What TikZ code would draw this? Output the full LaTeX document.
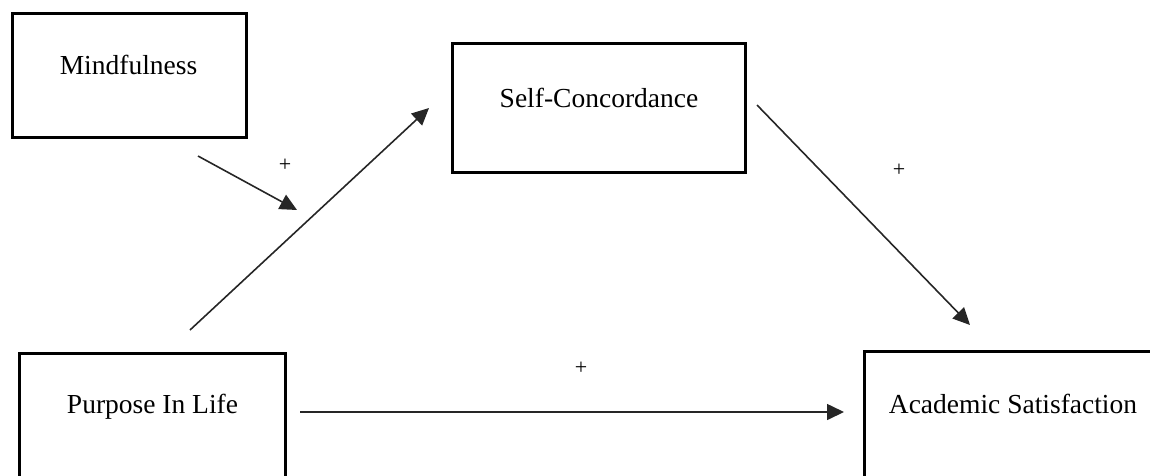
\documentclass[tikz,border=0pt]{standalone}
\usepackage{fontspec}
\setmainfont{Liberation Serif}
\usetikzlibrary{arrows.meta}
\tikzset{
  varbox/.style={draw, line width=3pt, inner sep=0pt},
  vartext/.style={anchor=base, inner sep=0pt, font=\fontsize{27.5}{33}\selectfont},
  link/.style={-{Triangle[length=17pt,width=16pt]}, line width=1.6pt, draw=black!85},
  sign/.style={inner sep=0pt, font=\fontsize{22}{26}\selectfont}
}
\begin{document}
\begin{tikzpicture}[x=1pt,y=-1pt]
    \useasboundingbox (0,0) rectangle (1150,475);
    \clip (0,0) rectangle (1150,475);
    % boxes
    \node[varbox, minimum width=234pt, minimum height=124pt] (mind) at (129,75) {};
    \node[varbox, minimum width=293pt, minimum height=129pt] (self) at (598.5,107.5) {};
    \node[varbox, minimum width=266pt, minimum height=147pt] (pil) at (152,426.5) {};
    \node[varbox, minimum width=306pt, minimum height=149pt] (acad) at (1017,425.5) {};
    \node[vartext] (mindtxt) at (128.5,74) {Mindfulness};
    \node[vartext] (selftxt) at (599,107) {Self-Concordance};
    \node[vartext] (piltxt) at (152.5,413) {Purpose In Life};
    \node[vartext] (acadtxt) at (1013,413) {Academic Satisfaction};
    % arrow ends
    \coordinate (m1) at (198,156); \coordinate (m2) at (297,210);
    \coordinate (p1) at (190,330); \coordinate (p2) at (429,108);
    \coordinate (s1) at (757,105); \coordinate (s2) at (970,325);
    \coordinate (h1) at (300,412); \coordinate (h2) at (844,412);
    \draw[link] (m1) -- (m2);
    \draw[link] (p1) -- (p2);
    \draw[link] (s1) -- (s2);
    \draw[link] (h1) -- (h2);
    \node[sign] (plusm) at (285,165) {+};
    \node[sign] (pluss) at (899,170) {+};
    \node[sign] (plush) at (581,368) {+};
\end{tikzpicture}
\end{document}
